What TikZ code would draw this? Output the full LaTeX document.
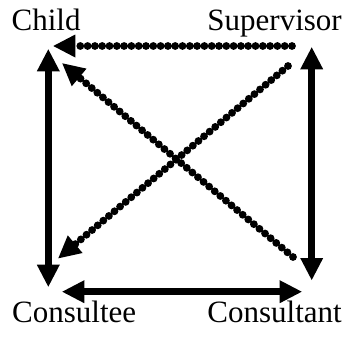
\documentclass[tikz,border=0pt]{standalone}
\usepackage{fontspec}
\setmainfont{Liberation Serif}
\usetikzlibrary{arrows.meta}
\tikzset{
  lbl/.style={inner sep=0pt, font=\fontsize{31}{36}\selectfont},
  tipshape/.tip={Triangle[length=22pt,width=23pt,line width=0pt]},
  solidarrow/.style={line width=7.5pt, tipshape-tipshape},
  dotarrow/.style={line width=7.8pt, line cap=round, dash pattern=on 0pt off 7.3pt, -tipshape},
}
\begin{document}
\begin{tikzpicture}[x=1pt,y=-1pt]
\useasboundingbox (0,0) rectangle (352,338);
\node[lbl, anchor=base west] (child) at (11.5,30.5) {Child};
\node[lbl, anchor=base east] (sup) at (342,30) {Supervisor};
\node[lbl, anchor=base west] (cee) at (12,322.5) {Consultee};
\node[lbl, anchor=base east] (cant) at (342,322) {Consultant};
\coordinate (childA) at (53.3,46);
\coordinate (childB) at (62.3,63.3);
\coordinate (childC) at (48.3,49.3);
\coordinate (supA) at (292,46);
\coordinate (supB) at (288,66);
\coordinate (supC) at (311.7,47.3);
\coordinate (ceeA) at (58.3,258.3);
\coordinate (ceeC) at (48.3,286.7);
\coordinate (ceeD) at (62.3,291.7);
\coordinate (cantB) at (293,257);
\coordinate (cantC) at (311.7,280);
\coordinate (cantD) at (301.7,291.7);
\draw[dotarrow] (supA) -- (childA);
\draw[dotarrow] (supB) -- (ceeA);
\draw[dotarrow] (cantB) -- (childB);
\draw[solidarrow] (childC) -- (ceeC);
\draw[solidarrow] (supC) -- (cantC);
\draw[solidarrow] (ceeD) -- (cantD);
\end{tikzpicture}
\end{document}
